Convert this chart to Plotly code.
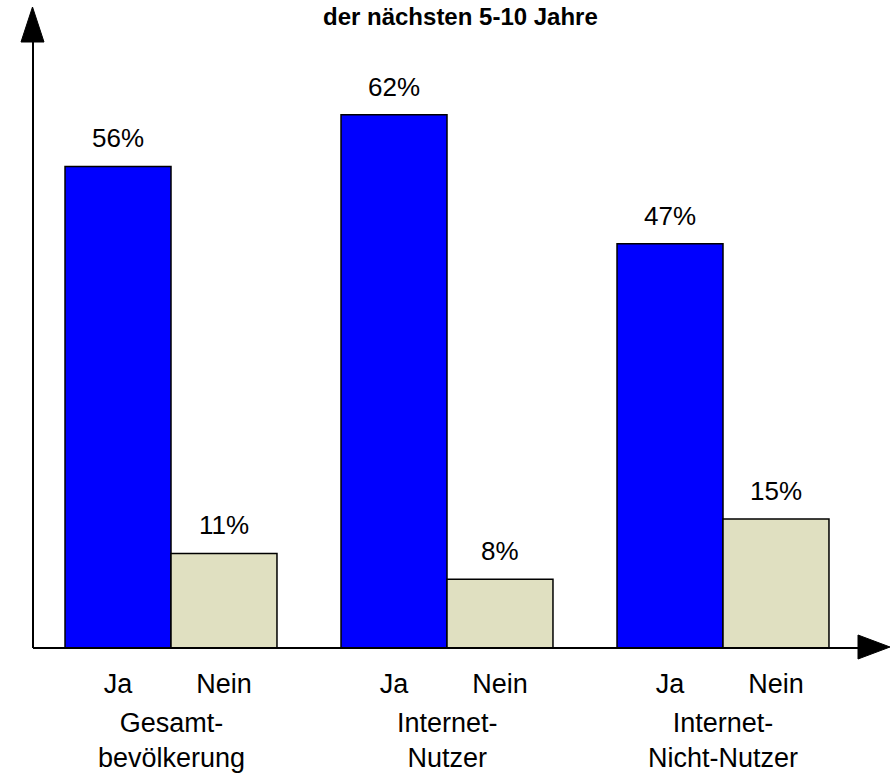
import plotly.graph_objects as go

# Survey results: share answering "Ja" / "Nein" per population group
groups = ["Gesamt-<br>bevölkerung", "Internet-<br>Nutzer", "Internet-<br>Nicht-Nutzer"]
answers = ["Ja", "Nein"]
ja_values = [56, 62, 47]
nein_values = [11, 8, 15]
title_text = "der nächsten 5-10 Jahre"

W, H = 890, 773
ML, MR, MT, MB = 33, 0, 7, 125
PW, PH = W - ML - MR, H - MT - MB
BARGAP = 0.232
BAR_W = (1 - BARGAP) / 2
FONT = "Liberation Sans, Arial, sans-serif"
BLUE = "#0000FF"
BEIGE = "#E0E0C1"


def px(xp):
    return (xp - ML) / PW


def py(yp):
    return (H - MB - yp) / PH


xs = list(range(len(groups)))

fig = go.Figure()
fig.add_trace(go.Bar(x=xs, y=ja_values, name="Ja", marker=dict(color=BLUE, line=dict(color="black", width=1.5))))
fig.add_trace(go.Bar(x=xs, y=nein_values, name="Nein", marker=dict(color=BEIGE, line=dict(color="black", width=1.5))))

# value labels above each bar
for i, g in enumerate(xs):
    for off, v in ((-BAR_W / 2, ja_values[i]), (BAR_W / 2, nein_values[i])):
        fig.add_annotation(x=g + off, y=v, text=f"{v}%", showarrow=False, yanchor="bottom",
                           yshift=11, font=dict(family=FONT, size=26, color="black"))

# group names under the Ja/Nein labels
for i, g in enumerate(xs):
    fig.add_annotation(x=g, y=py(706), xref="x", yref="paper", text=groups[i], showarrow=False,
                       yanchor="top", font=dict(family=FONT, size=27, color="black"))

fig.add_annotation(x=px(460), y=py(17), xref="paper", yref="paper", text=f"<b>{title_text}</b>",
                   showarrow=False, yanchor="middle", font=dict(family=FONT, size=24, color="black"))

tickvals = []
ticktext = []
for g in xs:
    tickvals += [g - BAR_W / 2, g + BAR_W / 2]
    ticktext += answers

# axes with arrowheads
shapes = [
    dict(type="line", xref="paper", yref="paper", x0=px(33), y0=py(648), x1=px(33), y1=py(42),
         line=dict(color="black", width=2)),
    dict(type="line", xref="paper", yref="paper", x0=px(33), y0=py(648), x1=px(860), y1=py(648),
         line=dict(color="black", width=2)),
    dict(type="path", xref="paper", yref="paper",
         path=f"M {px(21)},{py(42)} L {px(44)},{py(42)} L {px(32.5)},{py(7)} Z",
         fillcolor="black", line=dict(color="black", width=1)),
    dict(type="path", xref="paper", yref="paper",
         path=f"M {px(858)},{py(635)} L {px(858)},{py(659)} L {px(890)},{py(647)} Z",
         fillcolor="black", line=dict(color="black", width=1)),
]

fig.update_layout(
    width=W, height=H,
    margin=dict(l=ML, r=MR, t=MT, b=MB),
    paper_bgcolor="white", plot_bgcolor="white",
    barmode="group", bargap=BARGAP, bargroupgap=0,
    showlegend=False,
    shapes=shapes,
    xaxis=dict(range=[-0.5, -0.5 + PW / 276], tickvals=tickvals, ticktext=ticktext,
               showgrid=False, zeroline=False, showline=False, ticks="",
               ticklabelstandoff=17, tickfont=dict(family=FONT, size=27, color="black")),
    yaxis=dict(range=[0, PH / 8.6], showgrid=False, zeroline=False, showline=False,
               showticklabels=False, ticks=""),
)

fig.write_html("out.html")
